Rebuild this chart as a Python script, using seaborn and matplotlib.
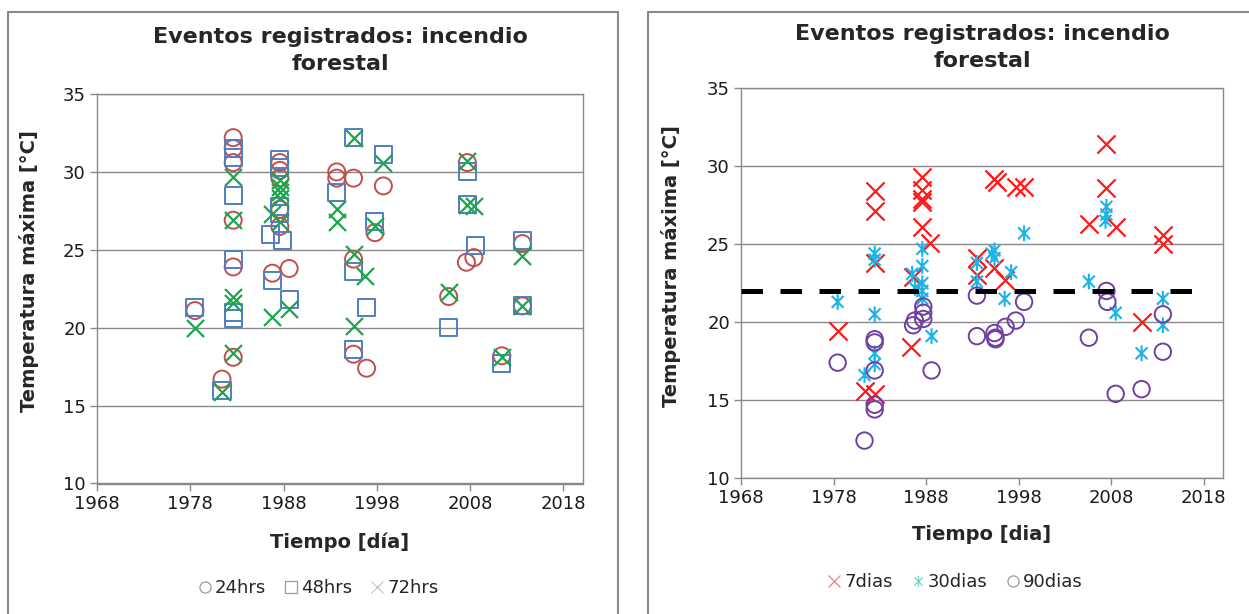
import numpy as np
import pandas as pd
import matplotlib
matplotlib.use("Agg")
import matplotlib.pyplot as plt
from matplotlib.path import Path
from matplotlib.lines import Line2D
from matplotlib.patches import Rectangle
import seaborn as sns

# ---------------- datos ----------------
# panel izquierdo: 24hrs / 48hrs / 72hrs
h24_x = [1978.5, 1981.4, 1982.6, 1982.6, 1982.6, 1982.6, 1982.6, 1982.6, 1986.8,
         1987.6, 1987.6, 1987.6, 1987.6, 1987.6, 1988.6, 1993.7, 1993.7, 1995.5,
         1995.5, 1995.5, 1996.9, 1997.8, 1998.7, 2005.7, 2007.7, 2007.6, 2008.4,
         2011.4, 2013.6, 2013.6]
h24_y = [21.1, 16.7, 32.2, 31.5, 30.6, 26.9, 23.9, 18.1, 23.5,
         30.6, 30.1, 29.6, 27.6, 26.5, 23.8, 30.0, 29.6, 29.6,
         24.4, 18.3, 17.4, 26.1, 29.1, 22.0, 30.6, 24.2, 24.5,
         18.2, 25.4, 21.4]

h48_x = [1978.5, 1981.4, 1982.6, 1982.6, 1982.6, 1982.6, 1982.6, 1982.6, 1986.6,
         1986.8, 1987.6, 1987.6, 1987.6, 1987.6, 1987.9, 1988.6, 1993.7, 1995.5,
         1995.5, 1995.5, 1996.9, 1997.8, 1998.7, 2005.7, 2007.7, 2007.7, 2008.6,
         2011.4, 2013.6, 2013.6]
h48_y = [21.3, 16.0, 31.5, 30.9, 28.5, 24.4, 21.0, 20.6, 26.0,
         23.0, 30.8, 30.3, 27.8, 27.3, 25.6, 21.8, 28.7, 32.2,
         23.6, 18.6, 21.3, 26.8, 31.1, 20.0, 30.0, 27.9, 25.3,
         17.7, 25.6, 21.4]

h72_x = [1978.5, 1981.4, 1982.6, 1982.6, 1982.6, 1982.6, 1982.6, 1986.8, 1986.8,
         1987.6, 1987.6, 1987.6, 1987.6, 1987.6, 1988.6, 1993.7, 1993.7, 1995.5,
         1995.5, 1995.5, 1996.7, 1997.8, 1998.7, 2005.7, 2007.7, 2007.7, 2008.4,
         2011.4, 2013.6, 2013.6]
h72_y = [20.0, 15.9, 29.7, 26.9, 22.0, 21.6, 18.4, 27.3, 20.7,
         29.5, 29.0, 28.7, 28.3, 26.8, 21.2, 27.6, 26.8, 32.2,
         24.7, 20.1, 23.3, 26.5, 30.6, 22.3, 30.7, 27.9, 27.8,
         18.1, 24.6, 21.4]

# panel derecho: 7dias / 30dias / 90dias
d7_x = [1978.45, 1981.35, 1982.45, 1982.45, 1982.45, 1982.45, 1986.4, 1986.6,
        1987.6, 1987.6, 1987.6, 1987.6, 1987.6, 1988.4, 1993.5, 1993.5, 1995.4,
        1995.7, 1995.4, 1996.5, 1997.7, 1998.6, 2005.6, 2007.5, 2007.5, 2008.5,
        2011.3, 2013.6, 2013.6]
d7_y = [19.4, 15.6, 28.4, 27.1, 23.8, 15.4, 18.4, 22.9,
        29.3, 28.5, 27.9, 27.7, 26.1, 25.1, 24.1, 23.0, 29.2,
        29.0, 23.5, 22.7, 28.7, 28.7, 26.3, 31.4, 28.6, 26.1,
        20.0, 25.6, 25.0]

d30_x = [1978.45, 1981.35, 1982.45, 1982.45, 1982.45, 1982.45, 1982.45, 1986.5,
         1986.8, 1987.6, 1987.6, 1987.6, 1987.6, 1987.6, 1988.6, 1993.5, 1993.5,
         1995.1, 1995.4, 1995.4, 1996.5, 1997.2, 1998.6, 2005.6, 2007.5, 2007.5,
         2007.4, 2008.5, 2011.3, 2013.6, 2013.6]
d30_y = [21.3, 16.6, 24.4, 24.0, 20.5, 18.0, 17.3, 23.1,
         22.2, 24.7, 23.6, 22.5, 22.0, 21.5, 19.1, 23.8, 22.6,
         24.4, 24.6, 24.1, 21.5, 23.2, 25.7, 22.6, 27.4, 26.9,
         26.5, 20.6, 18.0, 21.5, 19.8]

d90_x = [1978.45, 1981.35, 1982.45, 1982.45, 1982.45, 1982.45, 1982.45, 1986.6,
         1986.8, 1987.7, 1987.7, 1987.7, 1988.6, 1993.5, 1993.5, 1995.4, 1995.5,
         1995.5, 1996.6, 1997.7, 1998.6, 2005.6, 2007.5, 2007.6, 2008.5, 2011.3,
         2013.6, 2013.6]
d90_y = [17.4, 12.4, 18.9, 18.7, 16.9, 14.7, 14.4, 19.8,
         20.1, 21.0, 20.6, 20.2, 16.9, 21.7, 19.1, 19.3, 19.0,
         18.9, 19.7, 20.1, 21.3, 19.0, 22.0, 21.3, 15.4, 15.7,
         20.5, 18.1]

# umbral (linea discontinua)
umbral_x = [1968.0, 2016.7]
umbral_y = [22.0, 22.0]

anios_ticks = [1968, 1978, 1988, 1998, 2008, 2018]
temp_ticks = [10, 15, 20, 25, 30, 35]

# ---------------- estilo ----------------
sns.set_style("white")
plt.rcParams['font.family'] = ['DejaVu Sans']

GRIS = '#8a8a8a'
ROJO24 = '#c0504d'
AZUL48 = '#4f7fc0'
VERDE72 = '#1aa64a'
ROJO7 = '#ff1a1a'
CIAN30 = '#1ab4e8'
MORADO90 = '#7040a0'

# marcador asterisco tipo Excel (cruz + linea vertical)
ASTER = Path([(0, -1), (0, 1), (-0.75, -0.75), (0.75, 0.75), (-0.75, 0.75), (0.75, -0.75)],
             [Path.MOVETO, Path.LINETO, Path.MOVETO, Path.LINETO, Path.MOVETO, Path.LINETO])

W, H = 1249, 614
fig = plt.figure(figsize=(W / 100, H / 100), dpi=100)

# marcos de los dos graficos
fig.add_artist(Rectangle((8 / W, -0.01), 610 / W, 1 - 12 / H + 0.01, transform=fig.transFigure,
                         fill=False, ec=GRIS, lw=1.5))
fig.add_artist(Rectangle((648 / W, -0.01), 610 / W, 1 - 12 / H + 0.01, transform=fig.transFigure,
                         fill=False, ec=GRIS, lw=1.5))

ax1 = fig.add_axes([97 / W, 1 - 483.5 / H, 486 / W, 389.5 / H])
ax2 = fig.add_axes([741 / W, 1 - 478 / H, 482 / W, 389.7 / H])


def estilo_ejes(ax, xlab, pad):
    ax.set_xlim(1968, 2020.1)
    ax.set_ylim(10, 35)
    ax.set_xticks(anios_ticks)
    ax.set_yticks(temp_ticks)
    ax.grid(axis='y', color=GRIS, lw=1.0)
    ax.grid(axis='x', visible=False)
    ax.set_axisbelow(True)
    for s in ax.spines.values():
        s.set_color(GRIS)
        s.set_linewidth(1.0)
        s.set_visible(True)
    ax.tick_params(axis='both', which='major', direction='out', length=5, width=1,
                   color=GRIS, labelsize=13, labelcolor='#1a1a1a', pad=3)
    ax.tick_params(axis='x', bottom=True)
    ax.tick_params(axis='y', left=True)
    ax.set_title('Eventos registrados: incendio\nforestal', fontsize=16, fontweight='bold',
                 pad=pad, linespacing=1.45)
    ax.set_xlabel(xlab, fontsize=14, fontweight='bold')
    ax.set_ylabel('Temperatura máxima [°C]', fontsize=14, fontweight='bold')


# ---------------- panel izquierdo ----------------
sns.scatterplot(x=h24_x, y=h24_y, ax=ax1, marker='o', s=150, facecolor='none',
                edgecolor=ROJO24, linewidth=1.4, zorder=3)
sns.scatterplot(x=h48_x, y=h48_y, ax=ax1, marker='s', s=150, facecolor='none',
                edgecolor=AZUL48, linewidth=1.4, zorder=3)
sns.scatterplot(x=h72_x, y=h72_y, ax=ax1, marker='x', s=150, color=VERDE72,
                linewidth=1.6, zorder=3)
estilo_ejes(ax1, 'Tiempo [día]', 17)
ax1.xaxis.set_label_coords(0.5, -0.125)
ax1.yaxis.set_label_coords(-0.12, 0.545)

leg1 = [Line2D([], [], ls='none', marker='o', mfc='none', mec='#9a9a9a', ms=8, mew=0.9),
        Line2D([], [], ls='none', marker='s', mfc='none', mec='#9a9a9a', ms=8, mew=0.9),
        Line2D([], [], ls='none', marker='x', mec='#c8c8c8', ms=8, mew=0.9)]
fig.legend(leg1, ['24hrs', '48hrs', '72hrs'], loc='center', bbox_to_anchor=(318 / W, 1 - 588 / H),
           ncol=3, frameon=False, fontsize=13, handlelength=0.8, handletextpad=0.15,
           columnspacing=1.0)

# ---------------- panel derecho ----------------
sns.scatterplot(x=d7_x, y=d7_y, ax=ax2, marker='x', s=170, color=ROJO7,
                linewidth=1.6, zorder=3)
sns.scatterplot(x=d30_x, y=d30_y, ax=ax2, marker=ASTER, s=130, facecolor='none',
                edgecolor=CIAN30, linewidth=1.5, zorder=3)
sns.scatterplot(x=d90_x, y=d90_y, ax=ax2, marker='o', s=140, facecolor='none',
                edgecolor=MORADO90, linewidth=1.4, zorder=3)
sns.lineplot(x=umbral_x, y=umbral_y, ax=ax2, color='black', lw=3.6,
             ls=(0, (4.3, 3.5)), zorder=4)
estilo_ejes(ax2, 'Tiempo [dia]', 15)
ax2.xaxis.set_label_coords(0.5, -0.12)
ax2.yaxis.set_label_coords(-0.125, 0.545)

leg2 = [Line2D([], [], ls='none', marker='x', mec='#f08080', ms=8, mew=0.9),
        Line2D([], [], ls='none', marker=ASTER, mfc='none', mec='#70d8c8', ms=8, mew=0.9),
        Line2D([], [], ls='none', marker='o', mfc='none', mec='#9a9a9a', ms=8, mew=0.9)]
fig.legend(leg2, ['7dias', '30dias', '90dias'], loc='center', bbox_to_anchor=(955 / W, 1 - 582 / H),
           ncol=3, frameon=False, fontsize=13, handlelength=0.8, handletextpad=0.15,
           columnspacing=1.0)

fig.savefig('out.png', dpi=100, facecolor='white')
